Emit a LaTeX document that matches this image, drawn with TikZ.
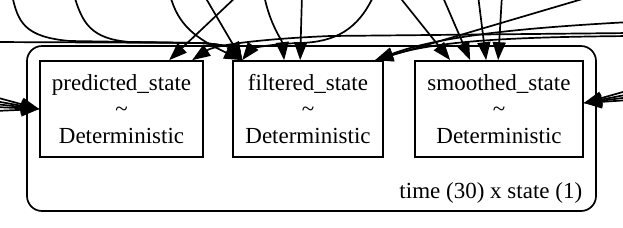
\documentclass[tikz,border=0pt]{standalone}
\usepackage{fontspec}
\setmainfont{Liberation Serif}
\usetikzlibrary{arrows.meta,calc}

\begin{document}
\begin{tikzpicture}[x=0.5pt, y=-0.5pt, line width=0.85pt,
    every node/.style={font=\fontsize{11.5}{13.3}\selectfont},
    var/.style={draw, align=center, inner sep=0pt, minimum height=48pt},
    edge/.style={-{Triangle[length=9pt,width=6.5pt]}}]
                \useasboundingbox (0,0) rectangle (623,227);

                \draw[rounded corners=7.5pt] (27,46) rectangle (596,211);
                \node[anchor=base east, inner sep=0pt] (plate) at (583,198) {time (30) x state (1)};

                \node[var, minimum width=81.5pt] (P) at (121.5,109) {predicted\_state\\\textasciitilde\\Deterministic};
                \node[var, minimum width=75pt] (F) at (308,109) {filtered\_state\\\textasciitilde\\Deterministic};
                \node[var, minimum width=84pt] (S) at (499,109) {smoothed\_state\\\textasciitilde\\Deterministic};

                \coordinate (B) at ($(F.north west)+(10,0)$);
                \coordinate (C) at ($(F.north west)+(143,0)$);

                \coordinate (t12) at (12,-5);
                \coordinate (t74) at (74,-5);
                \coordinate (t172) at (170,-5);
                \coordinate (t204) at (204,-5);
                \coordinate (t236) at (238,-5);
                \coordinate (t264) at (264,-5);
                \coordinate (t302) at (302,-5);
                \coordinate (t372) at (374,-5);
                \coordinate (t398) at (398,-5);
                \coordinate (t442) at (442,-5);
                \coordinate (t478) at (478,-5);
                \coordinate (t502) at (502,-5);
                \coordinate (t594) at (596,-5);
                \coordinate (l42) at (-5,42);
                \coordinate (r22) at (630,22);
                \coordinate (r33) at (630,33);
                \coordinate (r36) at (630,36);

                \foreach \y [count=\i] in {97,101,104,107,111} {
                    \coordinate (pl\i) at (-5,\y);
                    \draw[edge] (pl\i) -- (P.west);
                }
                \draw[edge] (t236) -- ($(P.north west)+(130,0)$);
                \draw[edge] (r33) -- (330,36) .. controls (260,39) and (215,45) .. ($(P.north west)+(153,0)$);

                \draw[edge] (l42) -- (200,43) .. controls (225,44) and (236,50) .. (B);
                \draw[edge] (t12) .. controls (18,22) and (24,37) .. (70,41) -- (200,43) .. controls (225,44) and (236,50) .. (B);
                \draw[edge] (t74) .. controls (82,22) and (90,39) .. (130,42) -- (200,43) .. controls (225,44) and (236,50) .. (B);
                \draw[edge] (t172) .. controls (178,25) and (195,38) .. (B);
                \draw[edge] (t204) -- (B);
                \draw[edge] (t372) .. controls (358,30) and (335,42) .. (300,43) .. controls (265,44) and (250,50) .. (B);
                \draw[edge] (t264) .. controls (270,25) and (282,40) .. ($(F.north west)+(52,0)$);
                \draw[edge] (t302) -- ($(F.north west)+(68,0)$);
                \draw[edge] (t594) -- (C);
                \draw[edge] (r22) .. controls (520,28) and (440,36) .. (C);
                \draw[edge] (r36) .. controls (520,37) and (440,40) .. (C);

                \draw[edge] (t398) -- ($(S.north west)+(36,0)$);
                \draw[edge] (t442) -- ($(S.north west)+(56,0)$);
                \draw[edge] (t478) -- ($(S.north west)+(72,0)$);
                \draw[edge] (t502) -- ($(S.north west)+(84,0)$);
                \foreach \y [count=\i] in {90,94,97,100} {
                    \coordinate (sr\i) at (630,\y);
                    \draw[edge] (sr\i) -- ($(S.east)+(0,-6)$);
                }
            \end{tikzpicture}
\end{document}
